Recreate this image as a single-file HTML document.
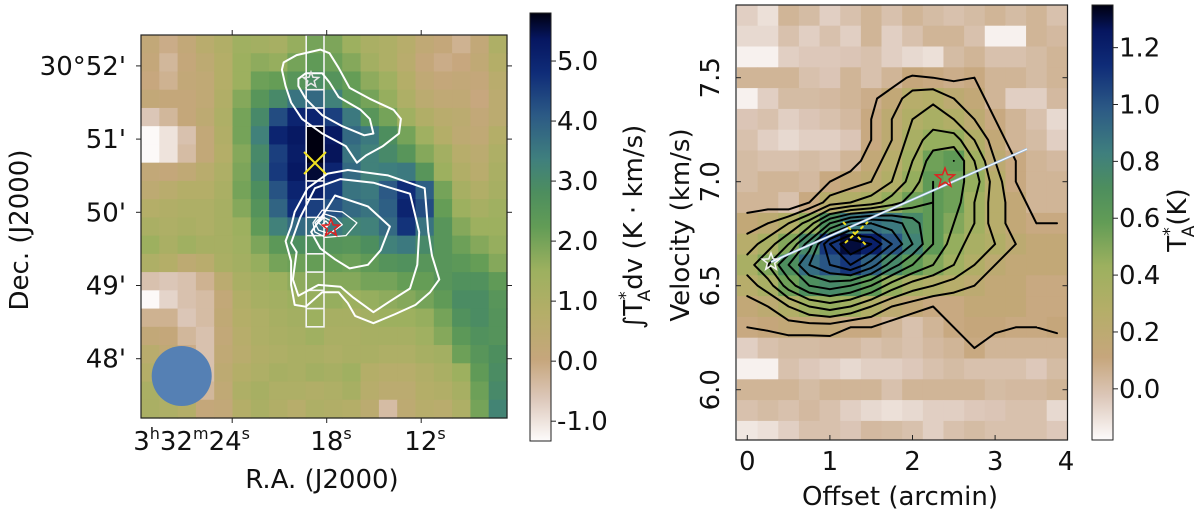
<!DOCTYPE html>
<html><head><meta charset="utf-8"><style>
html,body{margin:0;padding:0;background:#fff;}
svg{display:block;font-family:"DejaVu Sans","Liberation Sans",sans-serif;}
</style></head><body>
<svg id="fig" width="1200" height="515" viewBox="0 0 1200 515" xmlns="http://www.w3.org/2000/svg">
<defs>
<linearGradient id="cbar" x1="0" y1="1" x2="0" y2="0">
<stop offset="0" stop-color="#fdfbfb"/><stop offset="0.1" stop-color="#dcc7b9"/><stop offset="0.19" stop-color="#c6a67c"/><stop offset="0.3" stop-color="#b4ae68"/><stop offset="0.4" stop-color="#9cb05f"/><stop offset="0.5" stop-color="#629c56"/><stop offset="0.58" stop-color="#4d8e5e"/><stop offset="0.66" stop-color="#3f7f7e"/><stop offset="0.76" stop-color="#2c5a85"/><stop offset="0.86" stop-color="#0f2c78"/><stop offset="0.94" stop-color="#061660"/><stop offset="1" stop-color="#000010"/>
</linearGradient>
</defs>
<g id="left"></g>
<g id="right"></g>
</svg>
<script>
// ---------- data ----------
const leftMap = [
[0.2,-0.1,0.2,0.6,0.9,1.4,1.3,1.2,1.6,2.0,1.9,1.5,1.1,1.0,0.7,0.3,0.1,-0.2,0.2,1.0],
[0.1,-0.3,0.1,0.4,0.8,1.5,1.7,1.6,2.0,2.3,2.1,1.8,1.3,1.0,0.6,0.1,-0.1,0.0,0.3,0.8],
[0.0,-0.2,0.2,0.3,0.8,1.5,2.1,2.2,2.5,2.9,2.6,2.2,1.7,1.4,0.8,0.3,0.1,0.2,0.1,0.6],
[0.2,0.1,0.1,0.3,0.9,1.8,2.5,3.0,3.6,3.8,3.3,2.4,2.0,1.6,1.0,0.5,0.3,0.3,0.0,0.5],
[-0.6,-0.3,0.1,0.4,1.0,2.0,3.0,4.3,5.0,5.0,4.5,3.5,2.5,2.0,1.4,0.9,0.6,0.5,0.2,0.5],
[-1.3,-1.0,-0.5,0.2,0.9,2.0,3.3,5.0,5.3,5.8,5.3,3.8,3.5,2.8,2.0,1.4,0.8,0.4,0.3,0.8],
[-1.3,-1.0,-0.4,0.2,0.8,1.8,3.0,4.5,5.2,5.8,5.4,3.6,3.3,3.0,2.5,1.8,1.3,0.7,0.5,1.0],
[0.2,0.1,0.3,0.6,1.0,1.9,3.1,4.6,5.3,5.6,5.0,3.8,3.3,3.4,3.5,2.5,1.5,0.9,0.6,1.1],
[0.4,0.6,0.8,0.8,1.1,2.0,2.8,4.2,5.0,5.2,4.6,3.6,3.5,4.1,4.8,4.0,2.0,1.2,0.9,1.2],
[0.8,0.9,1.0,1.0,1.2,1.8,2.6,3.9,4.8,4.5,4.2,3.8,3.6,4.0,5.0,4.3,2.2,1.5,1.2,1.4],
[1.1,1.0,1.1,1.0,1.2,1.5,2.3,3.3,3.8,3.7,3.5,3.2,3.3,3.8,4.7,3.6,2.5,1.8,1.5,1.5],
[1.5,1.1,1.4,1.2,1.2,1.4,1.9,2.4,2.8,2.7,2.6,2.5,2.8,3.3,3.5,3.0,2.5,2.1,1.8,1.6],
[1.0,0.8,0.4,0.6,1.1,1.3,1.6,2.0,2.1,2.2,2.2,2.1,2.3,2.6,2.7,2.5,2.5,2.4,2.2,1.8],
[-0.5,-0.6,-0.5,-0.2,0.5,1.1,1.3,1.5,1.7,1.8,1.8,1.8,2.0,2.0,2.2,2.2,2.5,2.7,2.7,2.3],
[-1.3,-0.8,-0.5,-0.4,0.2,0.9,1.2,1.3,1.5,1.6,1.6,1.5,1.6,1.7,1.8,2.0,2.3,2.9,2.9,2.5],
[-0.2,-0.2,-0.6,-0.4,0.3,0.8,1.0,1.2,1.3,1.5,1.2,1.2,1.3,1.5,1.5,1.6,2.0,2.7,2.9,2.6],
[0.2,0.1,-0.3,-0.5,0.2,0.7,1.0,1.1,1.2,1.4,1.1,1.1,1.2,1.2,1.2,1.4,1.8,2.4,2.7,2.6],
[0.6,0.3,-0.1,-0.5,0.3,0.6,0.9,1.0,1.1,1.1,1.0,1.1,1.1,1.0,1.0,1.2,1.3,2.1,2.5,2.8],
[0.8,0.6,0.2,-0.5,0.4,0.8,1.0,1.2,1.1,1.3,1.2,1.4,0.8,0.7,0.7,0.9,1.1,1.5,2.3,2.9],
[1.1,0.9,0.5,-0.3,0.3,1.0,1.2,1.0,1.0,0.9,1.0,1.2,0.7,0.5,0.5,0.8,0.9,1.2,2.1,3.0],
[1.1,1.0,0.8,0.1,0.2,0.8,1.1,0.9,0.7,1.0,0.9,0.8,0.5,-0.4,0.4,0.7,0.6,1.0,2.0,3.2]
];
const leftTicksY = ["30°52'","51'","50'","49'","48'"];
const leftTicksYVal = [52,51,50,49,48];
const leftTicksXVal = [24,18,12];
const leftCbTicks = [5.0,4.0,3.0,2.0,1.0,0.0,-1.0];

const pvOffsets = [0,0.25,0.5,0.75,1,1.25,1.5,1.75,2,2.25,2.5,2.75,3,3.25,3.5,3.75];
const pvVelocities = [7.8,7.7,7.6,7.5,7.4,7.3,7.2,7.1,7.0,6.9,6.8,6.7,6.6,6.5,6.4,6.3,6.2,6.1,6.0,5.9,5.8];
const pvMap = [
[-0.05,-0.1,0.05,0.02,-0.05,0.0,0.05,0.0,0.05,0.02,0.0,0.02,0.05,0.02,0.05,0.0],
[-0.08,-0.08,0.0,-0.05,0.0,-0.05,0.05,-0.05,0.0,0.05,0.05,0.0,-0.15,-0.15,0.05,0.03],
[-0.15,-0.15,-0.05,-0.03,-0.03,-0.02,0.0,-0.05,-0.08,-0.1,0.02,0.05,0.0,0.0,0.02,0.05],
[0.05,0.05,0.05,0.0,-0.02,0.05,0.0,0.05,0.12,0.1,0.08,0.1,0.05,0.05,0.02,0.05],
[-0.15,-0.05,0.02,0.02,0.03,0.05,0.08,0.15,0.25,0.28,0.2,0.15,0.05,-0.05,-0.05,0.03],
[-0.02,0.0,-0.05,-0.02,0.0,0.03,0.1,0.2,0.3,0.35,0.3,0.2,0.1,0.05,0.0,-0.08],
[0.0,-0.05,-0.08,-0.05,-0.05,-0.02,0.1,0.2,0.35,0.45,0.45,0.3,0.15,0.05,0.02,-0.05],
[0.02,0.0,0.0,0.02,0.0,0.05,0.15,0.25,0.4,0.55,0.6,0.4,0.2,0.1,0.05,0.03],
[0.02,0.05,0.05,0.03,0.1,0.15,0.2,0.3,0.45,0.6,0.55,0.45,0.25,0.1,0.05,0.05],
[0.05,0.05,0.0,0.1,0.25,0.3,0.35,0.45,0.55,0.6,0.55,0.4,0.25,0.15,0.05,0.05],
[0.15,0.2,0.3,0.45,0.7,0.85,0.9,0.85,0.75,0.6,0.5,0.4,0.25,0.15,0.1,0.1],
[0.25,0.35,0.5,0.75,1.1,1.3,1.2,1.0,0.8,0.6,0.45,0.35,0.3,0.2,0.15,0.15],
[0.35,0.5,0.7,0.9,1.0,1.1,0.95,0.75,0.6,0.5,0.4,0.3,0.2,0.15,0.15,0.15],
[0.25,0.35,0.55,0.7,0.75,0.7,0.6,0.45,0.35,0.3,0.25,0.2,0.15,0.15,0.1,0.1],
[0.15,0.2,0.3,0.4,0.45,0.4,0.3,0.2,0.15,0.1,0.1,0.15,0.15,0.15,0.1,0.1],
[0.1,0.12,0.15,0.15,0.15,0.1,0.1,0.05,0.0,0.05,0.1,0.12,0.12,0.1,0.1,0.12],
[-0.05,0.0,0.02,0.02,0.03,0.03,0.0,0.02,0.0,0.03,0.05,0.1,0.05,0.05,0.05,0.05],
[-0.15,-0.15,0.0,-0.03,-0.05,-0.08,-0.05,-0.05,-0.03,0.0,0.02,0.0,0.0,0.0,-0.03,0.02],
[0.05,0.05,0.05,0.02,0.05,0.05,0.05,0.0,0.05,0.05,0.05,0.05,0.02,0.03,0.03,0.05],
[0.0,0.02,0.0,0.03,0.0,-0.05,-0.08,-0.1,-0.08,-0.05,-0.05,-0.03,-0.02,0.0,0.0,-0.08],
[-0.12,-0.1,-0.05,0.0,0.0,-0.02,0.03,0.02,0.0,-0.05,0.0,0.02,0.0,0.0,0.0,-0.03]
];
const pvLevels = [0.1,0.2,0.3,0.4,0.5,0.6,0.7,0.8,0.9,1.0,1.1,1.2];
const pvTicksX = [0,1,2,3,4];
const pvTicksY = [7.5,7.0,6.5,6.0];
const pvCbTicks = [1.2,1.0,0.8,0.6,0.4,0.2,0.0];

// white contours on left map, in grid units (col,row) of the map
const leftContours = [
[[12.8,1.5],[13.5,1.1],[14.8,0.8],[15.3,1.0],[15.8,1.8],[16.4,2.9],[17.5,3.5],[18.8,4.1],[19.2,4.6],[19.1,5.4],[18.2,6.1],[17.3,6.6],[16.8,7.0],[16.2,6.1],[14.9,5.4],[13.8,4.6],[13.2,3.7],[12.9,2.8],[12.7,1.9]],
[[13.6,2.4],[14.0,2.1],[14.9,2.1],[15.3,2.6],[15.8,3.4],[17.0,4.1],[17.5,4.6],[17.7,5.4],[17.2,5.5],[16.0,5.0],[14.9,4.4],[14.0,3.5],[13.6,2.8]],
[[13.4,9.7],[14.1,8.4],[15.2,7.6],[16.3,7.4],[18.5,7.7],[20.5,8.4],[20.7,10.8],[20.9,12.1],[21.3,13.4],[20.8,14.1],[20.0,14.8],[18.9,15.3],[17.7,15.8],[16.7,15.4],[16.3,14.7],[15.8,14.1],[14.9,14.1],[14.0,14.9],[13.4,14.8],[13.2,13.7],[13.2,12.4],[12.9,11.3],[13.2,10.5]],
[[13.7,10.0],[14.5,8.4],[15.9,7.9],[17.7,8.1],[19.7,8.7],[20.2,10.8],[20.1,12.6],[19.7,13.9],[18.6,14.6],[17.7,15.2],[16.6,14.4],[15.9,13.8],[14.7,13.7],[13.6,14.3],[13.3,13.4],[13.5,11.9],[13.2,11.4]],
[[14.8,10.1],[15.6,8.8],[17.4,9.4],[18.6,10.5],[18.1,11.8],[17.4,12.6],[16.4,12.8],[15.6,12.3],[14.8,11.7],[14.3,10.8]],
[[14.4,10.3],[14.9,9.6],[16.0,9.7],[16.8,10.3],[16.2,11.0],[15.1,11.1],[14.5,10.8]],
[[14.5,10.3],[15.0,9.8],[15.6,10.0],[16.0,10.4],[15.3,10.9],[14.7,10.7]],
[[14.7,10.3],[15.0,10.0],[15.4,10.2],[15.1,10.6]],
[[14.9,10.4],[15.1,10.2],[15.3,10.4],[15.1,10.5]]
];

// ---------- helpers ----------
const NS = "http://www.w3.org/2000/svg";
const FS = 26;
function mk(parent, tag, attrs, text){
  const e = document.createElementNS(NS, tag);
  for (const k in attrs) e.setAttribute(k, attrs[k]);
  if (text !== undefined) e.textContent = text;
  parent.appendChild(e);
  return e;
}
const stops = [[0,[253,251,251]],[0.1,[220,199,185]],[0.19,[198,166,124]],[0.3,[180,174,104]],[0.4,[156,176,95]],[0.5,[98,156,86]],[0.58,[77,142,94]],[0.66,[63,127,126]],[0.76,[44,90,133]],[0.86,[15,44,120]],[0.94,[6,22,96]],[1,[0,0,16]]];
function cmap(t){
  t = Math.max(0, Math.min(1, t));
  for (let i=1;i<stops.length;i++){
    if (t <= stops[i][0]){
      const a=stops[i-1], b=stops[i], f=(t-a[0])/(b[0]-a[0]);
      const c=a[1].map((v,j)=>Math.round(v+(b[1][j]-v)*f));
      return `rgb(${c[0]},${c[1]},${c[2]})`;
    }
  }
  return "rgb(0,0,16)";
}
function starPts(cx, cy, r){
  const p=[];
  for(let i=0;i<10;i++){
    const a=-Math.PI/2+i*Math.PI/5, rr=i%2?r*0.42:r;
    p.push((cx+rr*Math.cos(a)).toFixed(1)+","+(cy+rr*Math.sin(a)).toFixed(1));
  }
  return p.join(" ");
}

// ---------- LEFT PANEL ----------
const L = document.getElementById("left");
const LX0=141, LX1=507, LY0=35, LY1=418;
const nCols = leftMap[0].length, nRows = leftMap.length;
const cw=(LX1-LX0)/nCols, ch=(LY1-LY0)/nRows;
const lVmin=-1.33, lVmax=5.8;
const colX = c => LX0 + c*cw;
const rowY = r => LY0 + r*ch;
const decY = d => 212.3 - (d-50)*73.2;
const raX = s => 326.7 - (s-18)*15.75;

const lcells = mk(L,"g",{});


leftMap.forEach((row,r)=>row.forEach((v,c)=>{
  const e = mk(lcells,"rect",{x:colX(c).toFixed(2),y:rowY(r).toFixed(2),width:(cw+0.6).toFixed(2),height:(ch+0.6).toFixed(2),fill:cmap((v-lVmin)/(lVmax-lVmin))});
  
  
}));
const beam = mk(L,"circle",{cx:181.7,cy:376,r:30,fill:"#5580b4"});


const strip = mk(L,"g",{stroke:"#f4f4f4","stroke-width":1.6,fill:"none"});


mk(strip,"rect",{x:colX(9)+0.5,y:LY0,width:cw-0.5,height:rowY(16)-LY0});
for(let r=3;r<16;r++){ if(r===6||r===7) continue; mk(strip,"line",{x1:colX(9)+0.5,x2:colX(10),y1:rowY(r),y2:rowY(r)}); }
const lc = mk(L,"g",{stroke:"#ffffff","stroke-width":2,fill:"none","stroke-linejoin":"round"});


leftContours.forEach((poly,i)=>{
  const pts = poly.map(p=>(LX0+(p[0]-5)*cw).toFixed(1)+","+(LY0+p[1]*ch).toFixed(1)).join(" ");
  const e = mk(lc,"polygon",{points:pts,"stroke-width":i>=5?1.3:2});
  
  
});
const ws = mk(L,"polygon",{points:starPts(311,80,8),fill:"none",stroke:"#e8e8e8","stroke-width":1.5});


const rs = mk(L,"polygon",{points:starPts(331,228,9),fill:"none",stroke:"#e02020","stroke-width":1.5});


const yx = mk(L,"path",{d:"M304,152 L326,174 M326,152 L304,174",stroke:"#f0e020","stroke-width":2});


const lf = mk(L,"rect",{x:LX0,y:LY0,width:LX1-LX0,height:LY1-LY0,fill:"none",stroke:"#222","stroke-width":1.2});


leftTicksYVal.forEach((d,i)=>{
  const y=decY(d);
  mk(L,"line",{x1:LX0-5,x2:LX0,y1:y,y2:y,stroke:"#222"});
  mk(L,"line",{x1:LX1,x2:LX1+5,y1:y,y2:y,stroke:"#222"});
  const t = mk(L,"text",{x:126,y:y+9,"text-anchor":"end","font-size":FS,fill:"#111"},leftTicksY[i]);
  
  
});
leftTicksXVal.forEach((s)=>{
  const x=raX(s);
  mk(L,"line",{x1:x,x2:x,y1:LY0-5,y2:LY0,stroke:"#222"});
  mk(L,"line",{x1:x,x2:x,y1:LY1,y2:LY1+5,stroke:"#222"});
});
{
  const t = mk(L,"text",{x:250,y:450,"text-anchor":"end","font-size":FS,fill:"#111"});
  
  
  t.innerHTML='3<tspan font-size="16" dy="-11">h</tspan><tspan dy="11">32</tspan><tspan font-size="16" dy="-11">m</tspan><tspan dy="11">24</tspan><tspan font-size="16" dy="-11">s</tspan>';
  [[327,"18"],[421,"12"]].forEach(a=>{
    const u = mk(L,"text",{x:a[0]+4,y:450,"text-anchor":"middle","font-size":FS,fill:"#111"});
    
    
    u.innerHTML=a[1]+'<tspan font-size="16" dy="-11">s</tspan>';
  });
}
const xl = mk(L,"text",{x:322,y:488,"text-anchor":"middle","font-size":FS,fill:"#111"},"R.A. (J2000)");


const yl = mk(L,"text",{x:0,y:0,transform:"translate(28,230) rotate(-90)","text-anchor":"middle","font-size":FS,fill:"#111"},"Dec. (J2000)");


const CB1x=530, CB1w=21, CB1top=13, CB1bot=441;
const cb1 = mk(L,"rect",{x:CB1x,y:CB1top,width:CB1w,height:CB1bot-CB1top,fill:"url(#cbar)",stroke:"#222","stroke-width":1});


const cb1Y = v => CB1bot - (v-lVmin)/(lVmax-lVmin)*(CB1bot-CB1top);
leftCbTicks.forEach(v=>{
  const y=cb1Y(v);
  mk(L,"line",{x1:CB1x+CB1w,x2:CB1x+CB1w+5,y1:y,y2:y,stroke:"#222"});
  const t=mk(L,"text",{x:557,y:y+9,"font-size":FS,fill:"#111"},v.toFixed(1));
  
  
});
{
  const t = mk(L,"text",{x:0,y:0,transform:"translate(642,227) rotate(-90)","text-anchor":"middle","font-size":FS,fill:"#111"});
  
  
  t.innerHTML='∫T<tspan font-size="17" dy="-11">*</tspan><tspan font-size="17" dx="-10" dy="19">A</tspan><tspan dy="-8">dv (K · km/s)</tspan>';
}

// ---------- RIGHT PANEL ----------
const R = document.getElementById("right");
const RX0=736, RX1=1067.5, RY0=5, RY1=440;
const oX = o => 747.3 + o*82.6;
const vY = v => 181.7 - (v-7.0)*208;
const rVmin=-0.18, rVmax=1.35;
const dOff = 0.25, dVel = 0.1;
const rcells = mk(R,"g",{});


pvMap.forEach((row,r)=>row.forEach((v,c)=>{
  const x=oX(pvOffsets[c]-dOff/2), y=vY(pvVelocities[r]+dVel/2);
  const w=oX(pvOffsets[c]+dOff/2)-x, h=vY(pvVelocities[r]-dVel/2)-y;
  const e = mk(rcells,"rect",{x:Math.max(RX0,x).toFixed(2),y:Math.max(RY0,y).toFixed(2),width:(Math.min(RX1,x+w)-Math.max(RX0,x)+0.5).toFixed(2),height:(Math.min(RY1,y+h)-Math.max(RY0,y)+0.5).toFixed(2),fill:cmap((v-rVmin)/(rVmax-rVmin))});
  
  
}));
const rc = mk(R,"g",{stroke:"#000","stroke-width":2,fill:"none","stroke-linecap":"round"});


pvLevels.forEach(lv=>{
  let d="";
  for(let r=0;r<pvMap.length-1;r++) for(let c=0;c<pvMap[0].length-1;c++){
    const a=pvMap[r][c], b=pvMap[r][c+1], cc=pvMap[r+1][c+1], dd=pvMap[r+1][c];
    const P = (x0,y0,v0,x1,y1,v1)=>{const f=(lv-v0)/(v1-v0);return [x0+(x1-x0)*f,y0+(y1-y0)*f];};
    const x0=oX(pvOffsets[c]), x1=oX(pvOffsets[c+1]), y0=vY(pvVelocities[r]), y1=vY(pvVelocities[r+1]);
    const pts=[];
    if((a>=lv)!==(b>=lv)) pts.push(P(x0,y0,a,x1,y0,b));
    if((b>=lv)!==(cc>=lv)) pts.push(P(x1,y0,b,x1,y1,cc));
    if((cc>=lv)!==(dd>=lv)) pts.push(P(x1,y1,cc,x0,y1,dd));
    if((dd>=lv)!==(a>=lv)) pts.push(P(x0,y1,dd,x0,y0,a));
    for(let i=0;i+1<pts.length;i+=2) d+=`M${pts[i][0].toFixed(1)},${pts[i][1].toFixed(1)}L${pts[i+1][0].toFixed(1)},${pts[i+1][1].toFixed(1)}`;
  }
  const e = mk(rc,"path",{d:d});
  
  
});
const gl = mk(R,"line",{x1:771,y1:262,x2:1027,y2:149,stroke:"#9cc0e8","stroke-width":2.4});


mk(R,"line",{x1:771,y1:262,x2:1027,y2:149,stroke:"#ffffff","stroke-width":1});
const yd = mk(R,"path",{d:"M843,222 L866,245 M845,243 L868,222",stroke:"#f0e020","stroke-width":2,"stroke-dasharray":"4,3"});


const ws2 = mk(R,"polygon",{points:starPts(771,262,9),fill:"none",stroke:"#f4f4f4","stroke-width":1.5});


const rs2 = mk(R,"polygon",{points:starPts(945,178,10),fill:"none",stroke:"#e02020","stroke-width":1.5});


const rf = mk(R,"rect",{x:RX0,y:RY0,width:RX1-RX0,height:RY1-RY0,fill:"none",stroke:"#222","stroke-width":1.2});


pvTicksX.forEach(o=>{
  const x=Math.min(oX(o),RX1);
  mk(R,"line",{x1:x,x2:x,y1:RY1,y2:RY1-5,stroke:"#222"});
  const t=mk(R,"text",{x:o===4?1066:x,y:470,"text-anchor":"middle","font-size":FS,fill:"#111"},String(o));
  
  
});
pvTicksY.forEach(v=>{
  const y=vY(v);
  mk(R,"line",{x1:RX0,x2:RX0+5,y1:y,y2:y,stroke:"#222"});
  mk(R,"line",{x1:RX1-5,x2:RX1,y1:y,y2:y,stroke:"#222"});
  const t=mk(R,"text",{x:0,y:0,transform:`translate(719,${y}) rotate(-90)`,"text-anchor":"middle","font-size":FS,fill:"#111"},v.toFixed(1));
  
  
});
const rxl = mk(R,"text",{x:900,y:505,"text-anchor":"middle","font-size":FS,fill:"#111"},"Offset (arcmin)");


const ryl = mk(R,"text",{x:0,y:0,transform:"translate(689,225) rotate(-90)","text-anchor":"middle","font-size":FS,fill:"#111"},"Velocity (km/s)");


const CB2x=1092, CB2w=21, CB2top=5, CB2bot=440;
const cb2 = mk(R,"rect",{x:CB2x,y:CB2top,width:CB2w,height:CB2bot-CB2top,fill:"url(#cbar)",stroke:"#222","stroke-width":1});


const cb2Y = v => CB2bot - (v-rVmin)/(rVmax-rVmin)*(CB2bot-CB2top);
pvCbTicks.forEach(v=>{
  const y=cb2Y(v);
  mk(R,"line",{x1:CB2x+CB2w,x2:CB2x+CB2w+5,y1:y,y2:y,stroke:"#222"});
  const t=mk(R,"text",{x:1119,y:y+9,"font-size":FS,fill:"#111"},v.toFixed(1));
  
  
});
{
  const t = mk(R,"text",{x:0,y:0,transform:"translate(1186,220) rotate(-90)","text-anchor":"middle","font-size":FS,fill:"#111"});
  
  
  t.innerHTML='T<tspan font-size="17" dy="-11">*</tspan><tspan font-size="17" dx="-10" dy="19">A</tspan><tspan dy="-8">(K)</tspan>';
}
</script>
</body></html>
